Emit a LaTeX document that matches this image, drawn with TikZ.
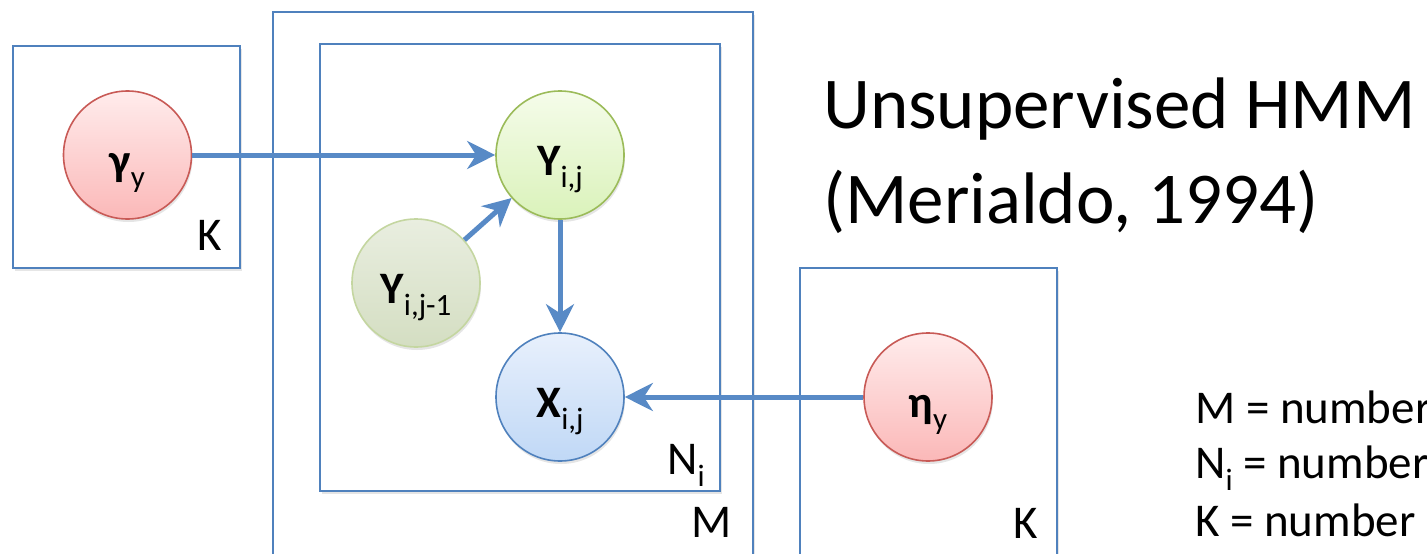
\documentclass[tikz,border=0pt]{standalone}
\usepackage{fontspec}
\setmainfont{Carlito}
\usepackage{tikz}
\usetikzlibrary{positioning, arrows.meta, shadows}
\usepackage{xcolor}

\definecolor{plateblue}{RGB}{79,129,189}
\definecolor{edgeblue}{RGB}{88,138,198}
\definecolor{redtop}{RGB}{255,236,236}
\definecolor{redbot}{RGB}{251,184,184}
\definecolor{redline}{RGB}{200,90,86}
\definecolor{greentop}{RGB}{245,252,234}
\definecolor{greenbot}{RGB}{218,242,186}
\definecolor{greenline}{RGB}{155,187,89}
\definecolor{greytop}{RGB}{233,238,224}
\definecolor{greybot}{RGB}{212,222,194}
\definecolor{greyline}{RGB}{196,214,160}
\definecolor{bluetop}{RGB}{232,240,252}
\definecolor{bluebot}{RGB}{192,216,246}

\newcommand{\lowsub}[1]{\raisebox{-12pt}{\fontsize{31}{31}\selectfont\mdseries #1}}

\begin{document}
\begin{tikzpicture}[x=1pt, y=1pt,
    plate/.style={draw=plateblue, line width=2pt, fill=white, anchor=north west, inner sep=0pt,
        drop shadow={opacity=0.2, shadow xshift=2pt, shadow yshift=-3pt}},
    platelabel/.style={anchor=base east, inner sep=0pt, font=\fontsize{47}{47}\selectfont},
    var/.style={circle, minimum size=128pt, inner sep=0pt, line width=1.6pt,
        text height=44pt, text depth=4pt, font=\fontsize{45}{45}\selectfont\bfseries,
        drop shadow={opacity=0.2, shadow xshift=1pt, shadow yshift=-3pt}},
    param/.style={var, draw=redline, top color=redtop, bottom color=redbot},
    edge/.style={draw=edgeblue, line width=5pt, -{Stealth[length=28pt, width=28pt, inset=9pt]}},
    legend/.style={anchor=base west, inner sep=0pt, font=\fontsize{47}{47}\selectfont}]
    \useasboundingbox (0,0) rectangle (1427,-554);
    \clip (0,0) rectangle (1427,-554);

    % Plates
    \node[plate, minimum width=227pt, minimum height=222pt] (plateK) at (12,-45) {};
    \node[plate, minimum width=480pt, minimum height=545pt] (plateM) at (272,-11) {};
    \node[plate, minimum width=400pt, minimum height=447pt] (plateN) at (319,-43) {};
    \node[plate, minimum width=257pt, minimum height=289pt] (plateE) at (799,-267) {};

    \node[platelabel] (labK) at ([shift={(-19,19)}]plateK.south east) {K};
    \node[platelabel] (labN) at ([shift={(-16,18)}]plateN.south east) {N\lowsub{i}};
    \node[platelabel] (labM) at ([shift={(-22,21)}]plateM.south east) {M};
    \node[platelabel] (labE) at ([shift={(-20,20)}]plateE.south east) {K};

    % Variables
    \node[param] (gamma) at (127.5,-155) {γ\lowsub{y}};
    \node[var, draw=greenline, top color=greentop, bottom color=greenbot] (yij) at (560,-155) {Y\lowsub{i,j}};
    \node[var, draw=greyline, top color=greytop, bottom color=greybot] (yprev) at (416,-283) {Y\lowsub{i,j-1}};
    \node[var, draw=plateblue, top color=bluetop, bottom color=bluebot] (xij) at (560,-397) {X\lowsub{i,j}};
    \node[param] (eta) at (928,-397) {η\lowsub{y}};

    % Edges
    \draw[edge] (gamma) -- (yij);
    \draw[edge] (yprev) -- (yij);
    \draw[edge] (yij) -- (xij);
    \draw[edge] (eta) -- (xij);

    % Title and legend
    \node[anchor=base west, inner sep=0pt, font=\fontsize{73}{73}\selectfont] (title1) at (823,-128) {Unsupervised HMM};
    \node[anchor=base west, inner sep=0pt, font=\fontsize{73}{73}\selectfont] (title2) at (823,-223) {(Merialdo, 1994)};

    \node[legend] (legM) at (1195,-423) {M = number};
    \node[legend] (legN) at (1195,-478) {N\lowsub{i} = number};
    \node[legend] (legK) at (1195,-536) {K = number};
\end{tikzpicture}
\end{document}
